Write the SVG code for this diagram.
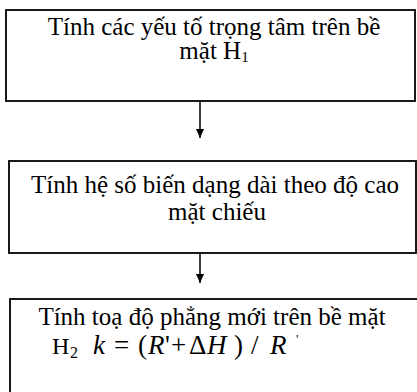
<svg xmlns="http://www.w3.org/2000/svg" width="417" height="392" viewBox="0 0 417 392">
<defs>
<marker id="ah" markerWidth="10" markerHeight="10" refX="9" refY="5" orient="auto" markerUnits="userSpaceOnUse">
<path d="M0,1 L9,5 L0,9 Z" fill="#000"/>
</marker>
<style>
.box{fill:#fff;stroke:#000;stroke-width:1.8}
.t{font-size:25px;fill:#000;text-anchor:middle}
.f{fill:#000;font-size:27px}
.i{font-style:italic}
.conn{stroke:#000;stroke-width:1.5;fill:none}
</style>
</defs>
<rect width="417" height="392" fill="#fff"/>
<g id="node1">
<rect class="box" x="6" y="10" width="409" height="91"/>
<text class="t" font-family="Liberation Serif, Times New Roman, serif" x="214" y="35">Tính các yếu tố trọng tâm trên bề</text>
<text class="t" font-family="Liberation Serif, Times New Roman, serif" x="214" y="59">mặt H<tspan font-size="15" dy="3">1</tspan></text>
</g>
<g id="node2">
<rect class="box" x="9" y="161" width="407" height="92"/>
<text class="t" font-family="Liberation Serif, Times New Roman, serif" x="215" y="193">Tính hệ số biến dạng dài theo độ cao</text>
<text class="t" font-family="Liberation Serif, Times New Roman, serif" x="217" y="220">mặt chiếu</text>
</g>
<g id="node3">
<rect class="box" x="10" y="299" width="420" height="110"/>
<text class="t" font-family="Liberation Serif, Times New Roman, serif" x="212" y="325">Tính toạ độ phẳng mới trên bề mặt</text>
<g class="f" font-family="Liberation Serif, Times New Roman, serif">
<text x="52" y="354" font-size="24">H</text>
<text x="70" y="358" font-size="16">2</text>
<text x="93" y="354" class="i">k</text>
<text x="114" y="354">=</text>
<text x="138" y="354">(</text>
<text x="148" y="354" class="i">R</text>
<text x="165" y="354">'</text>
<text x="171" y="354">+</text>
<text x="189" y="354">Δ</text>
<text x="207" y="354" class="i">H</text>
<text x="234" y="354">)</text>
<text x="251" y="354">/</text>
<text x="270" y="354" class="i">R</text>
<text x="296" y="343" font-size="13">'</text>
</g>
</g>
<g id="connectors">
<line class="conn" x1="200" y1="101" x2="200" y2="138" marker-end="url(#ah)"/>
<line class="conn" x1="200" y1="253" x2="200" y2="283" marker-end="url(#ah)"/>
</g>
</svg>
